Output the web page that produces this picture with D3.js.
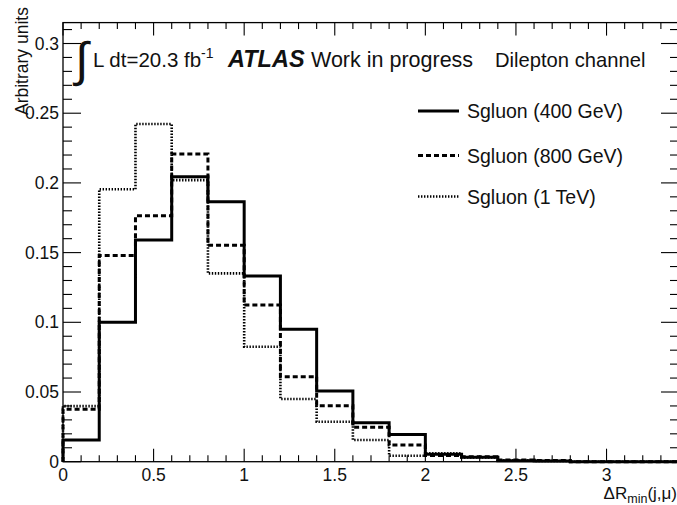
<!DOCTYPE html>
<html><head><meta charset="utf-8">
<script src="https://cdn.jsdelivr.net/npm/d3@7"></script>
<style>
body{margin:0;background:#fff;}
text{font-family:"Liberation Sans",Arial,sans-serif;fill:#111;}
</style></head>
<body><svg id="c" width="677" height="505"></svg>
<script>
// ---- data ----
const binEdges = [0,0.2,0.4,0.6,0.8,1.0,1.2,1.4,1.6,1.8,2.0,2.2,2.4,2.6,2.8,3.0,3.2,3.4];
const sgluon400 = [0.0156,0.100,0.159,0.2045,0.1865,0.1332,0.095,0.0507,0.028,0.0195,0.0053,0.0032,0.0006,0.0005,0,0,0];
const sgluon800 = [0.0376,0.148,0.1765,0.2207,0.1552,0.1124,0.061,0.0402,0.0247,0.012,0.0045,0.0036,0.0012,0.0008,0,0,0];
const sgluon1000 = [0.0399,0.1954,0.2423,0.202,0.1351,0.0825,0.045,0.0287,0.0156,0.0043,0.006,0.003,0.001,0.0005,0,0,0];
const seriesNames = ["Sgluon (400 GeV)","Sgluon (800 GeV)","Sgluon (1 TeV)"];
const xTicks = [0,0.5,1,1.5,2,2.5,3];
const yTicks = [0,0.05,0.1,0.15,0.2,0.25,0.3];

// ---- layout ----
const L=63, R=679, T=22.6, B=461.7;
const svg = d3.select("#c");
const x = d3.scaleLinear().domain([0,3.4]).range([L,R]);
const y = d3.scaleLinear().domain([0,0.315]).range([B,T]);

// histograms
const styles = [
  {w:3, dash:null},
  {w:3, dash:"5,3"},
  {w:2.6, dash:"1.4,1.6"}
];
const allSeries = [sgluon400, sgluon800, sgluon1000];
const line = d3.line().x(d=>x(d[0])).y(d=>y(d[1])).curve(d3.curveStepAfter);
[2,1,0].forEach(i=>{
  const vals = allSeries[i];
  const pts = [[binEdges[0],0]];
  vals.forEach((v,k)=>pts.push([binEdges[k],v]));
  pts.push([binEdges[binEdges.length-1], vals[vals.length-1]]);
  svg.append("path").attr("d",line(pts)).attr("fill","none")
    .attr("stroke","#000").attr("stroke-width",styles[i].w)
    .attr("stroke-dasharray",styles[i].dash);
});

// frame
svg.append("rect").attr("x",L).attr("y",T).attr("width",R-L).attr("height",B-T)
  .attr("fill","none").attr("stroke","#000").attr("stroke-width",1.3);

// ticks
const g = svg.append("g").attr("stroke","#000").attr("stroke-width",1.1);
const xMinor = d3.range(0,35).map(d=>d/10);
xMinor.forEach(v=>{
  const major = Math.abs(v*2-Math.round(v*2))<1e-6;
  const len = major?13:6.5;
  g.append("line").attr("x1",x(v)).attr("x2",x(v)).attr("y1",B).attr("y2",B-len);
  g.append("line").attr("x1",x(v)).attr("x2",x(v)).attr("y1",T).attr("y2",T+len);
});
const yMinor = d3.range(0,32).map(d=>d/100);
yMinor.forEach(v=>{
  const major = (Math.round(v*100)%5)===0;
  const len = major?18:9;
  g.append("line").attr("x1",L).attr("x2",L+len).attr("y1",y(v)).attr("y2",y(v));
  g.append("line").attr("x1",R).attr("x2",R-len).attr("y1",y(v)).attr("y2",y(v));
});

// tick labels
xTicks.forEach(v=>{
  svg.append("text").attr("x",x(v)).attr("y",481).attr("text-anchor","middle")
    .attr("font-size",17.5).text(String(v));
});
yTicks.forEach(v=>{
  svg.append("text").attr("x",59).attr("y",y(v)+6).attr("text-anchor","end")
    .attr("font-size",17.5).text(String(v));
});

// axis titles
svg.append("text").attr("transform","translate(28,115) rotate(-90)")
  .attr("text-anchor","start").attr("font-size",17.5).text("Arbitrary units");
const xt = svg.append("text").attr("x",677).attr("y",499).attr("text-anchor","end").attr("font-size",17);
xt.append("tspan").text("ΔR");
xt.append("tspan").attr("font-size",12.5).attr("dy",4).text("min");
xt.append("tspan").attr("dy",-4).text("(j,μ)");

// header
svg.append("text").attr("x",75).attr("y",76).attr("font-size",48)
  .attr("font-family","DejaVu Sans").text("∫");
const lum = svg.append("text").attr("x",93).attr("y",67).attr("font-size",20.5);
lum.append("tspan").text("L dt=20.3 fb");
lum.append("tspan").attr("font-size",14).attr("dy",-9).text("-1");
svg.append("text").attr("x",228).attr("y",67).attr("font-size",23.5)
  .attr("font-weight","bold").attr("font-style","italic").text("ATLAS");
svg.append("text").attr("x",311).attr("y",67).attr("font-size",21.5).text("Work in progress");
svg.append("text").attr("x",495).attr("y",67).attr("font-size",20.2).text("Dilepton channel");

// legend
const legY = [111,155.5,196.5];
seriesNames.forEach((n,i)=>{
  svg.append("line").attr("x1",418).attr("x2",459).attr("y1",legY[i]).attr("y2",legY[i])
    .attr("stroke","#000").attr("stroke-width",styles[i].w).attr("stroke-dasharray",styles[i].dash);
  svg.append("text").attr("x",467).attr("y",legY[i]+7).attr("font-size",19.5).text(n);
});
</script></body></html>
